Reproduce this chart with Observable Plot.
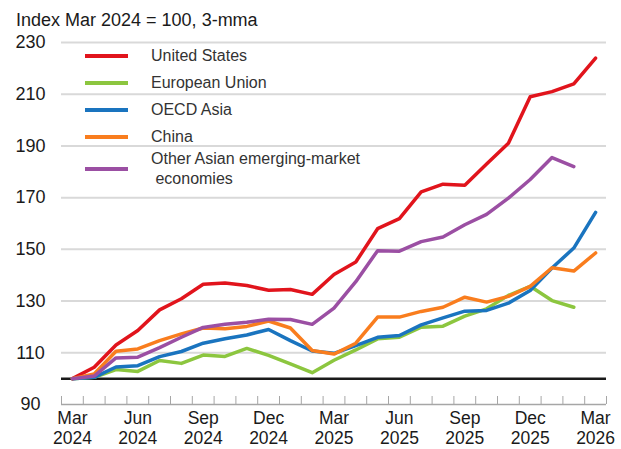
<!DOCTYPE html>
<html><head><meta charset="utf-8">
<script src="https://cdn.jsdelivr.net/npm/d3@7"></script>
<script src="https://cdn.jsdelivr.net/npm/@observablehq/plot@0.6"></script>
<style>
body{margin:0;background:#fff;font-family:"Liberation Sans",Arial,sans-serif;}
#wrap{position:relative;width:621px;height:449px;}
#title{position:absolute;left:16px;top:10px;font-size:18px;line-height:20px;color:#1a1a1a;white-space:nowrap;}
.sw{position:absolute;left:85px;width:43px;height:4px;}
.lab{position:absolute;left:151px;font-size:16px;line-height:20px;color:#333;white-space:pre;}
</style></head><body><div id="wrap"><div id="title"></div></div>
<script>
const titleText = "Index Mar 2024 = 100, 3-mma";
const months = ["Mar 2024","Apr 2024","May 2024","Jun 2024","Jul 2024","Aug 2024","Sep 2024","Oct 2024","Nov 2024","Dec 2024","Jan 2025","Feb 2025","Mar 2025","Apr 2025","May 2025","Jun 2025","Jul 2025","Aug 2025","Sep 2025","Oct 2025","Nov 2025","Dec 2025","Jan 2026","Feb 2026","Mar 2026"];
const seriesNames = ["United States","European Union","OECD Asia","China","Other Asian emerging-market\n economies"];
const seriesColors = ["#e1141c","#8cc63f","#1a74bf","#f97d1e","#9b4fa3"];
const unitedStates = [100,104.4,113,118.6,126.6,130.9,136.5,137,136,134.2,134.5,132.6,140.3,145.1,158,161.9,172.2,175.2,174.8,183,191,209,211,214,224];
const europeanUnion = [100,100.5,103.5,102.8,107,105.9,109.1,108.6,111.7,109,105.7,102.3,107.1,111.1,115.4,116,119.9,120.3,124.2,127,132.2,135.7,130.2,127.6];
const oecdAsia = [100,100.5,104.5,105,108.5,110.5,113.7,115.4,116.9,119,114.7,110.7,109.8,112.8,116,116.7,120.8,123.5,126.1,126.4,129.2,134.1,142.8,150.5,164.3];
const china = [100,101.8,110.6,111.5,114.7,117.3,119.6,119.3,120.2,122.3,119.6,110.9,109.5,113.7,123.8,123.8,126,127.6,131.5,129.6,131.8,135.7,142.9,141.6,148.6];
const otherAsianEM = [100,101,108,108.3,112,116,119.8,121,121.8,123,122.9,121,127.3,137.5,149.5,149.3,153,154.8,159.5,163.5,169.8,177,185.5,182];
const yTicks = [90,110,130,150,170,190,210,230];
const gridValues = [110,130,150,170,190,210,230];

const allSeries = [unitedStates, europeanUnion, oecdAsia, china, otherAsianEM];
const table = [];
allSeries.forEach((vals, s) => vals.forEach((v, i) => table.push({series: seriesNames[s], i, v})));
const xLabelIdx = months.map((m, i) => i).filter(i => /^(Mar|Jun|Sep|Dec)/.test(months[i]));
const boundaries = d3.range(months.length + 1).map(k => k - 0.5);

const W = 621, H = 449, mt = 42, mb = 45;
const chart = Plot.plot({
  width: W, height: H,
  marginTop: mt, marginBottom: mb, marginLeft: 61, marginRight: 15,
  style: {fontFamily: "'Liberation Sans', Arial, sans-serif", fontSize: "18px", color: "#1a1a1a", background: "transparent"},
  x: {domain: [-0.5, months.length - 0.5], axis: null},
  y: {domain: [90, 230], axis: null},
  color: {domain: seriesNames, range: seriesColors},
  marks: [
    Plot.ruleY(gridValues, {stroke: "#d9d9d9", strokeWidth: 2}),
    Plot.ruleY([90], {stroke: "#a6a6a6", strokeWidth: 1.5}),
    Plot.tickX(boundaries, {x: d => d, stroke: "#a6a6a6", strokeWidth: 1, insetTop: H - mt - mb - 8}),
    Plot.ruleY([100], {stroke: "#1a1a1a", strokeWidth: 2.5}),
    Plot.line(table, {x: "i", y: "v", z: "series", stroke: "series", strokeWidth: 3.5, strokeLinejoin: "round"}),
    Plot.text(yTicks, {y: d => d, frameAnchor: "left", dx: -31, textAnchor: "middle", fontSize: 18, fill: "#1a1a1a"}),
    Plot.text(xLabelIdx, {x: d => d, frameAnchor: "bottom", dy: 5, lineAnchor: "top", lineHeight: 1.15, fontSize: 17.5, fill: "#1a1a1a", text: i => months[i].replace(" ", "\n")})
  ]
});
const wrap = document.getElementById("wrap");
wrap.insertBefore(chart, wrap.firstChild);
chart.style.position = "absolute"; chart.style.left = "0"; chart.style.top = "0";
document.getElementById("title").textContent = titleText;

const rowCenters = [55.7, 82.7, 110, 137.3, 169];
seriesNames.forEach((name, s) => {
  const sw = document.createElement("div");
  sw.className = "sw";
  sw.style.background = seriesColors[s];
  sw.style.top = (rowCenters[s] - 2) + "px";
  wrap.appendChild(sw);
  const lab = document.createElement("div");
  lab.className = "lab";
  const lines = name.split("\n").length;
  lab.style.top = (rowCenters[s] - 10 * lines) + "px";
  lab.textContent = name;
  wrap.appendChild(lab);
});
</script></body></html>
